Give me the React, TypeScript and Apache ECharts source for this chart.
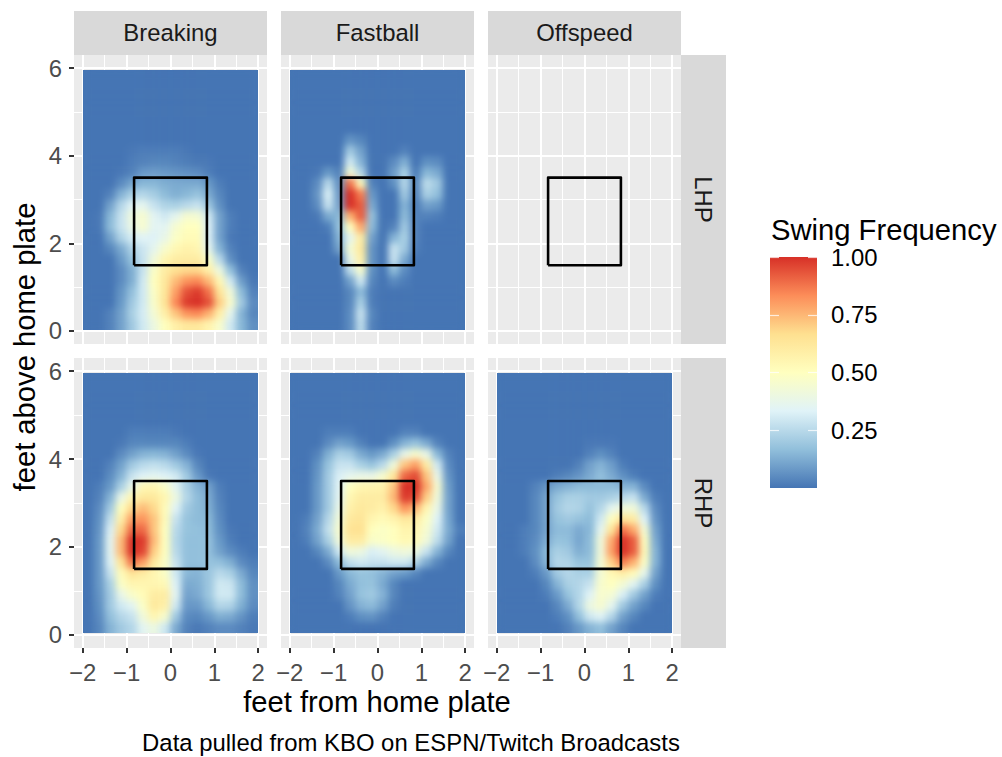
import React, { useEffect, useRef } from "react";
import * as echarts from "echarts";

const pitchTypes = ["Breaking", "Fastball", "Offspeed"];
const handedness = ["LHP", "RHP"];
const xTicks = [-2, -1, 0, 1, 2];
const xMinorTicks = [-1.5, -0.5, 0.5, 1.5];
const yTicks = [0, 2, 4, 6];
const yMinorTicks = [1, 3, 5];
const legendTicks = [0.25, 0.5, 0.75, 1];
const zoneX = [-0.83, 0.83, 0.83, -0.83, -0.83];
const zoneY = [1.5, 1.5, 3.5, 3.5, 1.5];
const heatColors = ["#4575b4", "#91bfdb", "#e0f3f8", "#ffffbf", "#fee090", "#fc8d59", "#d73027"];
const xCells = ["-1.875","-1.625","-1.375","-1.125","-0.875","-0.625","-0.375","-0.125","0.125","0.375","0.625","0.875","1.125","1.375","1.625","1.875"];
const yCellsTopDown = ["5.875","5.625","5.375","5.125","4.875","4.625","4.375","4.125","3.875","3.625","3.375","3.125","2.875","2.625","2.375","2.125","1.875","1.625","1.375","1.125","0.875","0.625","0.375","0.125"];

// Swing frequency in percent; rows run from the top of the panel down.
const breakingLHP = [
[0,0,0,0,0,0,0,0,0,0,0,0,0,0,0,0],
[0,0,0,0,0,0,0,0,0,0,0,0,0,0,0,0],
[0,0,0,0,0,0,0,0,0,0,0,0,0,0,0,0],
[0,0,0,0,0,0,0,0,0,0,0,0,0,0,0,0],
[0,0,0,0,0,0,0,0,0,0,0,0,0,0,0,0],
[0,0,0,0,0,0,0,0,0,0,0,0,0,0,0,0],
[0,0,0,0,0,0,0,0,0,0,0,0,0,0,0,0],
[0,0,0,0,1,2,2,2,2,1,0,0,0,0,0,0],
[0,0,0,0,2,3,4,4,3,2,1,1,0,0,0,0],
[0,0,0,1,3,8,9,8,7,6,5,2,0,0,0,0],
[0,0,0,5,11,15,15,13,12,12,12,8,2,0,0,0],
[0,0,3,14,22,24,21,16,13,15,18,12,4,0,0,0],
[0,0,10,24,34,36,28,23,22,25,28,19,6,0,0,0],
[0,1,15,28,41,45,35,30,36,45,44,30,10,2,0,0],
[0,1,16,28,39,45,35,35,45,50,50,32,10,2,0,0],
[0,0,10,23,31,34,33,38,48,52,52,32,10,1,0,0],
[0,0,4,12,23,29,36,46,54,57,55,36,14,3,0,0],
[0,0,0,8,18,28,42,55,60,60,60,47,25,6,0,0],
[0,0,0,5,13,28,48,60,66,68,68,58,40,17,3,0],
[0,0,0,5,13,30,50,62,74,82,84,74,54,30,9,1],
[0,0,0,7,17,30,48,63,80,94,98,88,64,42,16,3],
[0,0,0,8,20,30,47,64,84,98,100,94,70,46,20,5],
[0,0,3,10,22,31,44,58,72,82,84,76,58,36,14,4],
[0,0,3,10,20,30,40,50,58,62,62,56,46,30,15,6],
];

const fastballLHP = [
[0,0,0,0,0,0,0,0,0,0,0,0,0,0,0,0],
[0,0,0,0,0,0,0,0,0,0,0,0,0,0,0,0],
[0,0,0,0,0,0,0,0,0,0,0,0,0,0,0,0],
[0,0,0,0,0,0,0,0,0,0,0,0,0,0,0,0],
[0,0,0,0,0,0,0,0,0,0,0,0,0,0,0,0],
[0,0,0,0,0,0,0,0,0,0,0,0,0,0,0,0],
[0,0,0,0,0,7,4,0,0,0,0,0,0,0,0,0],
[0,0,0,0,0,20,10,0,0,0,3,0,0,0,0,0],
[0,0,0,0,0,30,14,0,0,5,13,0,6,5,0,0],
[0,0,1,8,3,44,24,0,0,9,22,2,15,12,0,0],
[0,0,5,25,6,88,52,3,0,6,24,4,26,20,0,0],
[0,0,7,32,8,100,86,8,0,0,20,3,22,17,0,0],
[0,0,5,28,10,100,92,12,0,0,14,2,10,8,0,0],
[0,0,1,12,15,76,92,18,0,0,16,3,3,2,0,0],
[0,0,0,2,17,50,78,16,0,3,20,3,0,0,0,0],
[0,0,0,0,14,36,60,10,0,14,22,3,0,0,0,0],
[0,0,0,0,10,44,62,7,0,28,20,2,0,0,0,0],
[0,0,0,0,0,38,58,7,0,28,12,0,0,0,0,0],
[0,0,0,0,0,26,46,6,0,16,5,0,0,0,0,0],
[0,0,0,0,0,10,30,4,0,5,2,0,0,0,0,0],
[0,0,0,0,0,4,16,2,0,0,0,0,0,0,0,0],
[0,0,0,0,0,4,22,2,0,0,0,0,0,0,0,0],
[0,0,0,0,0,5,28,4,0,0,0,0,0,0,0,0],
[0,0,0,0,0,5,26,3,0,0,0,0,0,0,0,0],
];

const breakingRHP = [
[0,0,0,0,0,0,0,0,0,0,0,0,0,0,0,0],
[0,0,0,0,0,0,0,0,0,0,0,0,0,0,0,0],
[0,0,0,0,0,0,0,0,0,0,0,0,0,0,0,0],
[0,0,0,0,0,0,0,0,0,0,0,0,0,0,0,0],
[0,0,0,0,0,0,0,0,0,0,0,0,0,0,0,0],
[0,0,0,0,2,2,2,2,1,0,0,0,0,0,0,0],
[0,0,0,1,4,4,4,4,4,2,0,0,0,0,0,0],
[0,0,0,5,10,14,15,14,10,5,1,0,0,0,0,0],
[0,0,3,10,20,25,27,25,20,14,4,0,0,0,0,0],
[0,0,5,14,28,33,35,33,30,20,8,1,0,0,0,0],
[0,2,8,22,38,54,55,48,35,22,14,10,2,0,0,0],
[0,3,14,38,55,62,62,55,40,24,16,12,3,0,0,0],
[0,5,20,50,68,74,68,52,34,20,16,13,4,0,0,0],
[0,6,27,58,80,82,72,52,28,18,16,15,5,0,0,0],
[0,7,32,68,90,90,72,50,25,18,17,16,6,1,0,0],
[0,8,35,74,100,98,74,50,24,17,17,17,8,2,0,0],
[0,8,35,74,100,96,70,50,25,17,17,17,10,5,2,0],
[0,8,33,64,88,80,62,48,28,17,17,18,17,13,5,2],
[0,8,28,52,64,60,55,48,30,15,14,19,25,22,12,4],
[0,8,22,48,55,55,55,53,33,12,13,19,30,29,16,6],
[0,7,20,38,47,52,60,60,35,10,12,19,30,30,16,6],
[0,6,20,30,35,48,62,58,30,8,8,15,24,23,13,5],
[0,5,17,24,28,42,55,46,20,5,4,8,13,12,7,2],
[0,4,14,20,24,35,40,30,12,3,1,3,5,5,3,1],
];

const fastballRHP = [
[0,0,0,0,0,0,0,0,0,0,0,0,0,0,0,0],
[0,0,0,0,0,0,0,0,0,0,0,0,0,0,0,0],
[0,0,0,0,0,0,0,0,0,0,0,0,0,0,0,0],
[0,0,0,0,0,0,0,0,0,0,0,0,0,0,0,0],
[0,0,0,0,0,0,0,0,0,0,0,0,0,0,0,0],
[0,0,0,2,2,2,0,0,0,0,3,3,0,0,0,0],
[0,0,0,5,10,8,3,0,0,6,14,18,12,3,0,0],
[0,0,3,13,22,20,12,8,12,22,38,46,38,15,3,0],
[0,0,6,18,28,28,22,18,25,42,72,80,60,30,5,0],
[0,0,7,20,32,36,38,38,45,62,90,95,72,38,7,0],
[0,0,8,20,34,50,55,56,57,72,100,100,78,45,9,0],
[0,0,8,20,35,55,60,60,60,75,98,95,70,42,10,0],
[0,0,8,20,38,58,62,60,57,68,82,75,55,38,10,0],
[0,2,10,24,42,62,64,55,52,56,62,60,48,33,11,0],
[0,3,12,27,45,65,66,50,48,50,56,55,45,30,12,2],
[0,2,10,22,42,60,60,47,48,50,54,52,42,26,10,0],
[0,0,4,12,30,42,40,32,35,40,42,40,28,14,4,0],
[0,0,0,5,16,27,30,28,28,30,30,24,12,4,0,0],
[0,0,0,0,8,15,18,17,14,10,8,4,0,0,0,0],
[0,0,0,0,4,12,17,18,12,4,0,0,0,0,0,0],
[0,0,0,0,3,10,18,20,14,4,0,0,0,0,0,0],
[0,0,0,0,0,7,14,16,10,2,0,0,0,0,0,0],
[0,0,0,0,0,2,6,7,3,0,0,0,0,0,0,0],
[0,0,0,0,0,0,0,0,0,0,0,0,0,0,0,0],
];

const offspeedRHP = [
[0,0,0,0,0,0,0,0,0,0,0,0,0,0,0,0],
[0,0,0,0,0,0,0,0,0,0,0,0,0,0,0,0],
[0,0,0,0,0,0,0,0,0,0,0,0,0,0,0,0],
[0,0,0,0,0,0,0,0,0,0,0,0,0,0,0,0],
[0,0,0,0,0,0,0,0,0,0,0,0,0,0,0,0],
[0,0,0,0,0,0,0,0,0,0,0,0,0,0,0,0],
[0,0,0,0,0,0,0,0,1,1,1,0,0,0,0,0],
[0,0,0,0,0,0,0,0,3,6,3,0,0,0,0,0],
[0,0,0,0,0,0,0,3,10,14,9,2,0,0,0,0],
[0,0,0,0,0,2,4,7,12,17,12,6,2,0,0,0],
[0,0,0,3,7,12,14,16,16,16,16,14,14,5,0,0],
[0,0,0,4,10,18,22,22,20,20,22,25,28,12,2,0],
[0,0,0,4,10,20,24,23,18,24,36,42,42,25,5,0],
[0,0,0,4,10,18,20,18,16,30,50,64,60,33,7,0],
[0,0,2,4,10,16,16,12,15,36,64,88,78,44,10,0],
[0,0,2,5,12,18,17,11,16,42,78,100,92,50,12,0],
[0,0,2,6,15,22,20,13,16,42,80,100,92,52,14,0],
[0,0,0,5,14,24,23,18,18,44,70,86,76,48,14,0],
[0,0,0,2,8,20,24,22,22,44,54,58,52,37,10,0],
[0,0,0,0,4,14,22,24,28,46,50,44,35,22,6,0],
[0,0,0,0,2,8,18,24,34,46,44,32,20,10,2,0],
[0,0,0,0,0,4,12,24,40,45,36,20,10,4,0,0],
[0,0,0,0,0,2,6,17,30,34,24,10,4,0,0,0],
[0,0,0,0,0,0,3,8,14,17,10,4,0,0,0,0],
];

const panelValues = [[breakingLHP, fastballLHP, null], [breakingRHP, fastballRHP, offspeedRHP]];

const font = "'Liberation Sans', Arial, sans-serif";
const columnLefts = [74, 281, 488];
const rowTops = [55, 358];
const rowHeights = [289, 290];
const panelWidth = 193;
const BLUR = 3.8;

function buildOption() {
  const grid: any[] = [], xAxis: any[] = [], yAxis: any[] = [], series: any[] = [];
  const graphic: any[] = [];
  const heatSeries: number[] = [];
  const heatBoxes: number[][] = [];

  const white = (width: number) => ({ show: true, lineStyle: { color: "#ffffff", width } });
  const noLine = { show: false, onZero: false };
  handedness.forEach((_, r) => {
    pitchTypes.forEach((__, c) => {
      const left = columnLefts[c], top = rowTops[r], height = rowHeights[r];
      const gi = grid.length;
      grid.push({ left, top, width: panelWidth, height, show: true, backgroundColor: "#ebebeb", borderWidth: 0 });
      const bottom = r === 1, leftmost = c === 0;
      const xi = xAxis.length;
      xAxis.push({
        type: "value", gridIndex: gi, min: -2.2, max: 2.2, position: "bottom",
        axisLine: noLine,
        axisTick: { show: bottom, customValues: xTicks, length: 5, lineStyle: { color: "#333333", width: 2 } },
        axisLabel: { show: bottom, customValues: xTicks, margin: 12, color: "#4d4d4d", fontSize: 23.9, fontFamily: font, hideOverlap: false,
          formatter: (v: number) => (v < 0 ? "\u2212" + -v : String(v)) },
        splitLine: white(2),
      });
      xAxis.push({
        type: "value", gridIndex: gi, min: -2.2, max: 2.2, position: "top",
        axisLine: noLine,
        axisTick: { show: false, customValues: xMinorTicks },
        axisLabel: { show: false, customValues: xMinorTicks },
        splitLine: white(1),
      });
      const yi = yAxis.length;
      yAxis.push({
        type: "value", gridIndex: gi, min: -0.3, max: 6.3, position: "left",
        axisLine: noLine,
        axisTick: { show: leftmost, customValues: yTicks, length: 5, lineStyle: { color: "#333333", width: 2 } },
        axisLabel: { show: leftmost, customValues: yTicks, margin: 12, color: "#4d4d4d", fontSize: 23.9, fontFamily: font },
        splitLine: white(2),
      });
      yAxis.push({
        type: "value", gridIndex: gi, min: -0.3, max: 6.3, position: "right",
        axisLine: noLine,
        axisTick: { show: false, customValues: yMinorTicks },
        axisLabel: { show: false, customValues: yMinorTicks },
        splitLine: white(1),
      });

      const values = panelValues[r][c];
      if (values) {
        const hg = grid.length;
        const hLeft = left + 9, hTop = top + 15, hW = 175, hH = 260;
        heatBoxes.push([hLeft, hTop, hW, hH]);
        grid.push({ left: hLeft, top: hTop, width: hW, height: hH });
        const hx = xAxis.length, hy = yAxis.length;
        xAxis.push({ type: "category", gridIndex: hg, data: xCells, show: false });
        yAxis.push({ type: "category", gridIndex: hg, data: [...yCellsTopDown].reverse(), show: false });
        const data: number[][] = [];
        values.forEach((row, ri) => row.forEach((v, ci) => data.push([ci, values.length - 1 - ri, v / 100])));
        heatSeries.push(series.length);
        series.push({ type: "heatmap", xAxisIndex: hx, yAxisIndex: hy, data, silent: true, z: 2, itemStyle: { borderWidth: 0 } });
      }
      series.push({
        type: "line", xAxisIndex: xi, yAxisIndex: yi, silent: true, z: 5, symbol: "none",
        data: zoneX.map((x, i) => [x, zoneY[i]]),
        lineStyle: { color: "#000000", width: 2.6, join: "round" },
      });

      if (r === 0) {
        graphic.push({ type: "rect", silent: true, z: 1, shape: { x: left, y: 11, width: panelWidth, height: 44 }, style: { fill: "#d9d9d9" } });
        graphic.push({ type: "text", silent: true, z: 2, x: left + panelWidth / 2, y: 32, style: { text: pitchTypes[c], fill: "#1a1a1a", font: `23.9px ${font}`, textAlign: "center", textVerticalAlign: "middle" } });
      }
    });
    const t = rowTops[r], h = rowHeights[r];
    graphic.push({ type: "rect", silent: true, z: 1, shape: { x: 681, y: t, width: 45, height: h }, style: { fill: "#d9d9d9" } });
    graphic.push({ type: "text", silent: true, z: 2, x: 703, y: t + h / 2, rotation: -Math.PI / 2, style: { text: handedness[r], fill: "#1a1a1a", font: `23.9px ${font}`, textAlign: "center", textVerticalAlign: "middle" } });
  });

  graphic.push({ type: "text", silent: true, x: 377, y: 702, style: { text: "feet from home plate", fill: "#000", font: `29.2px ${font}`, textAlign: "center", textVerticalAlign: "middle" } });
  graphic.push({ type: "text", silent: true, x: 25, y: 347, rotation: Math.PI / 2, style: { text: "feet above home plate", fill: "#000", font: `29.2px ${font}`, textAlign: "center", textVerticalAlign: "middle" } });
  graphic.push({ type: "text", silent: true, x: 411, y: 742, style: { text: "Data pulled from KBO on ESPN/Twitch Broadcasts", fill: "#000", font: `23.9px ${font}`, textAlign: "center", textVerticalAlign: "middle" } });
  graphic.push({ type: "text", silent: true, x: 771, y: 230, style: { text: "Swing Frequency", fill: "#000", font: `29.2px ${font}`, textAlign: "left", textVerticalAlign: "middle" } });
  graphic.push({
    type: "rect", silent: true, z: 1, shape: { x: 770, y: 257, width: 47, height: 231 },
    style: { fill: new echarts.graphic.LinearGradient(0, 1, 0, 0, heatColors.map((color, i) => ({ offset: i / (heatColors.length - 1), color }))) },
  });

  const lg = grid.length;
  grid.push({ left: 770, top: 257, width: 47, height: 231 });
  xAxis.push({ type: "value", gridIndex: lg, min: 0, max: 1, show: false });
  const legendTick = { show: true, inside: true, length: 9, customValues: legendTicks, lineStyle: { color: "rgba(255,255,255,0.75)", width: 1.2 } };
  const noLegendLine = { show: false, onZero: false };
  yAxis.push({
    type: "value", gridIndex: lg, min: 0, max: 1, position: "right", z: 10,
    axisLine: noLegendLine, splitLine: { show: false }, axisTick: legendTick,
    axisLabel: { customValues: legendTicks, margin: 14, color: "#000", fontSize: 23.9, fontFamily: font, padding: [2, 0, 0, 0], formatter: (v: number) => v.toFixed(2) },
  });
  yAxis.push({
    type: "value", gridIndex: lg, min: 0, max: 1, position: "left", z: 10,
    axisLine: noLegendLine, splitLine: { show: false }, axisTick: legendTick,
    axisLabel: { show: false, customValues: legendTicks },
  });

  return {
    option: {
      animation: false,
      backgroundColor: "#ffffff",
      tooltip: { show: false },
      grid, xAxis, yAxis, series, graphic,
      visualMap: {
        type: "continuous", show: false, min: 0, max: 1, seriesIndex: heatSeries,
        inRange: { color: heatColors },
      },
    },
    heatBoxes,
  };
}

// Softens the edges between the library's heat cells, panel by panel.
function softenCells(root: HTMLElement, boxes: number[][]) {
  const svg = root.querySelector("svg") as SVGSVGElement | null;
  if (!svg) return;
  const NS = "http://www.w3.org/2000/svg";
  const defs = document.createElementNS(NS, "defs");
  svg.insertBefore(defs, svg.firstChild);
  const filter = document.createElementNS(NS, "filter");
  filter.setAttribute("id", "heat-soften");
  filter.setAttribute("filterUnits", "userSpaceOnUse");
  ["x", "y"].forEach((k) => filter.setAttribute(k, "0"));
  filter.setAttribute("width", "1002");
  filter.setAttribute("height", "757");
  filter.setAttribute("color-interpolation-filters", "sRGB");
  const blur = document.createElementNS(NS, "feGaussianBlur");
  blur.setAttribute("stdDeviation", String(BLUR));
  const transfer = document.createElementNS(NS, "feComponentTransfer");
  const alpha = document.createElementNS(NS, "feFuncA");
  alpha.setAttribute("type", "linear");
  alpha.setAttribute("slope", "20");
  transfer.appendChild(alpha);
  filter.appendChild(blur);
  filter.appendChild(transfer);
  defs.appendChild(filter);

  const shapes = Array.from(svg.querySelectorAll("path,rect")) as SVGGraphicsElement[];
  boxes.forEach(([x, y, w, h], i) => {
    const cellW = w / xCells.length, cellH = h / yCellsTopDown.length;
    const cells = shapes.filter((el) => {
      const fill = el.getAttribute("fill");
      if (!fill || fill === "none") return false;
      const b = el.getBBox();
      return Math.abs(b.width - cellW) < 1.5 && Math.abs(b.height - cellH) < 1.5 && b.x >= x - 1 && b.y >= y - 1 && b.x + b.width <= x + w + 1 && b.y + b.height <= y + h + 1;
    });
    if (!cells.length) return;
    const clip = document.createElementNS(NS, "clipPath");
    clip.setAttribute("id", "heat-clip-" + i);
    const r = document.createElementNS(NS, "rect");
    r.setAttribute("x", String(x)); r.setAttribute("y", String(y));
    r.setAttribute("width", String(w)); r.setAttribute("height", String(h));
    clip.appendChild(r);
    defs.appendChild(clip);
    const outer = document.createElementNS(NS, "g");
    outer.setAttribute("clip-path", `url(#heat-clip-${i})`);
    const inner = document.createElementNS(NS, "g");
    inner.setAttribute("filter", "url(#heat-soften)");
    outer.appendChild(inner);
    cells[0].parentNode!.insertBefore(outer, cells[0]);
    cells.forEach((el) => inner.appendChild(el));
  });
}

export default function App() {
  const ref = useRef<HTMLDivElement>(null);
  useEffect(() => {
    const chart = echarts.init(ref.current!, undefined, { renderer: "svg" });
    const { option, heatBoxes } = buildOption();
    chart.setOption(option as any);
    softenCells(ref.current!, heatBoxes);
    return () => chart.dispose();
  }, []);
  return <div ref={ref} style={{ position: "absolute", left: 0, top: 0, width: 1002, height: 757 }} />;
}
